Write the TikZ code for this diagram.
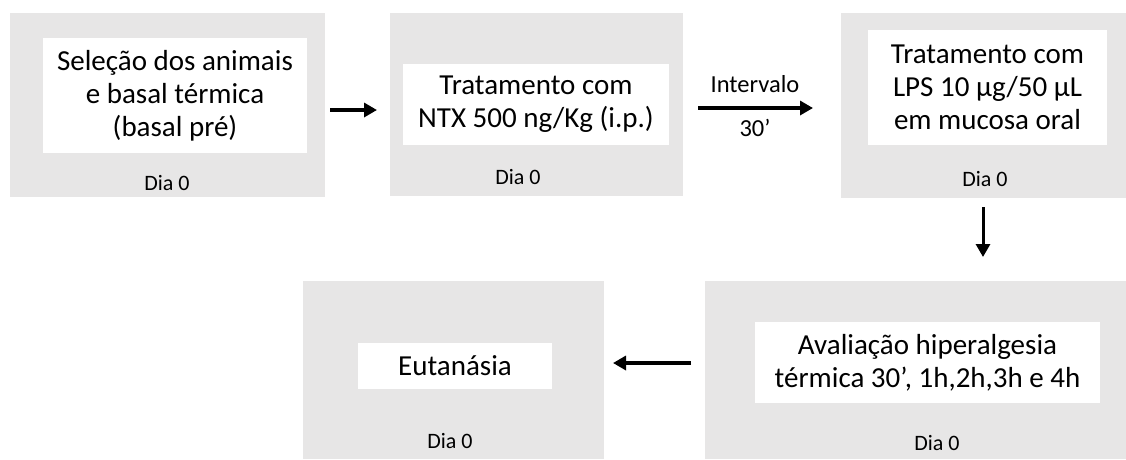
\documentclass[tikz,border=0pt]{standalone}
\usepackage{fontspec}
\setmainfont{Carlito}
\usetikzlibrary{arrows.meta}
\definecolor{panel}{RGB}{231,230,230}
\begin{document}
\begin{tikzpicture}[x=1pt,y=-1pt,
  panelbox/.style={rectangle, fill=panel, inner sep=0pt},
  labelbox/.style={rectangle, fill=white, inner sep=0pt, align=center,
    font=\fontsize{29}{33}\selectfont},
  daytext/.style={inner sep=0pt, font=\fontsize{22}{26}\selectfont},
  gaptext/.style={inner sep=0pt, font=\fontsize{24.5}{28}\selectfont},
  flow/.style={line width=3.5pt, -{Triangle[length=13pt,width=14pt]}}]
\useasboundingbox (0,0) rectangle (1126,459);

% step 1
\node[panelbox, minimum width=315pt, minimum height=184pt] (g1) at (167.5,105) {};
\node[labelbox, minimum width=264pt, minimum height=115pt] (w1) at (175,95.5)
  {Seleção dos animais\\e basal térmica\\(basal pré)};
\node[daytext] (d1) at (167,183) {Dia 0};

% step 2
\node[panelbox, minimum width=293pt, minimum height=183pt] (g2) at (536.5,104.5) {};
\node[labelbox, minimum width=266pt, minimum height=81pt] (w2) at (536,104.5)
  {Tratamento com\\NTX 500 ng/Kg (i.p.)};
\node[daytext] (d2) at (518,177) {Dia 0};

% step 3
\node[panelbox, minimum width=285pt, minimum height=185pt] (g3) at (983.5,105.5) {};
\node[labelbox, minimum width=239pt, minimum height=115pt] (w3) at (987.5,87.5)
  {Tratamento com\\LPS 10 µg/50 µL\\em mucosa oral};
\node[daytext] (d3) at (985,179) {Dia 0};

% step 4
\node[panelbox, minimum width=421pt, minimum height=178pt] (g4) at (915.5,370) {};
\node[labelbox, minimum width=345pt, minimum height=81pt] (w4) at (927.5,362.5)
  {Avaliação hiperalgesia\\térmica 30’, 1h,2h,3h e 4h};
\node[daytext] (d4) at (937,443) {Dia 0};

% step 5
\node[panelbox, minimum width=301pt, minimum height=178pt] (g5) at (453.5,370) {};
\node[labelbox, minimum width=194pt, minimum height=46pt] (w5) at (455,366)
  {Eutanásia};
\node[daytext] (d5) at (450,441) {Dia 0};

% connectors
\coordinate (a1s) at (330,110);
\coordinate (a1e) at (377,110);
\coordinate (a2s) at (698,108);
\coordinate (a2e) at (813,108);
\coordinate (a3s) at (983,207);
\coordinate (a3e) at (983,257);
\coordinate (a4s) at (691,363);
\coordinate (a4e) at (613,363);

\draw[flow] (a1s) -- (a1e);
\draw[flow] (a2s) -- (a2e);
\draw[flow, line width=3pt] (a3s) -- (a3e);
\draw[flow] (a4s) -- (a4e);

\node[gaptext] (gap) at (755,84) {Intervalo};
\node[gaptext] (gapt) at (755,128) {30’};
\end{tikzpicture}
\end{document}
